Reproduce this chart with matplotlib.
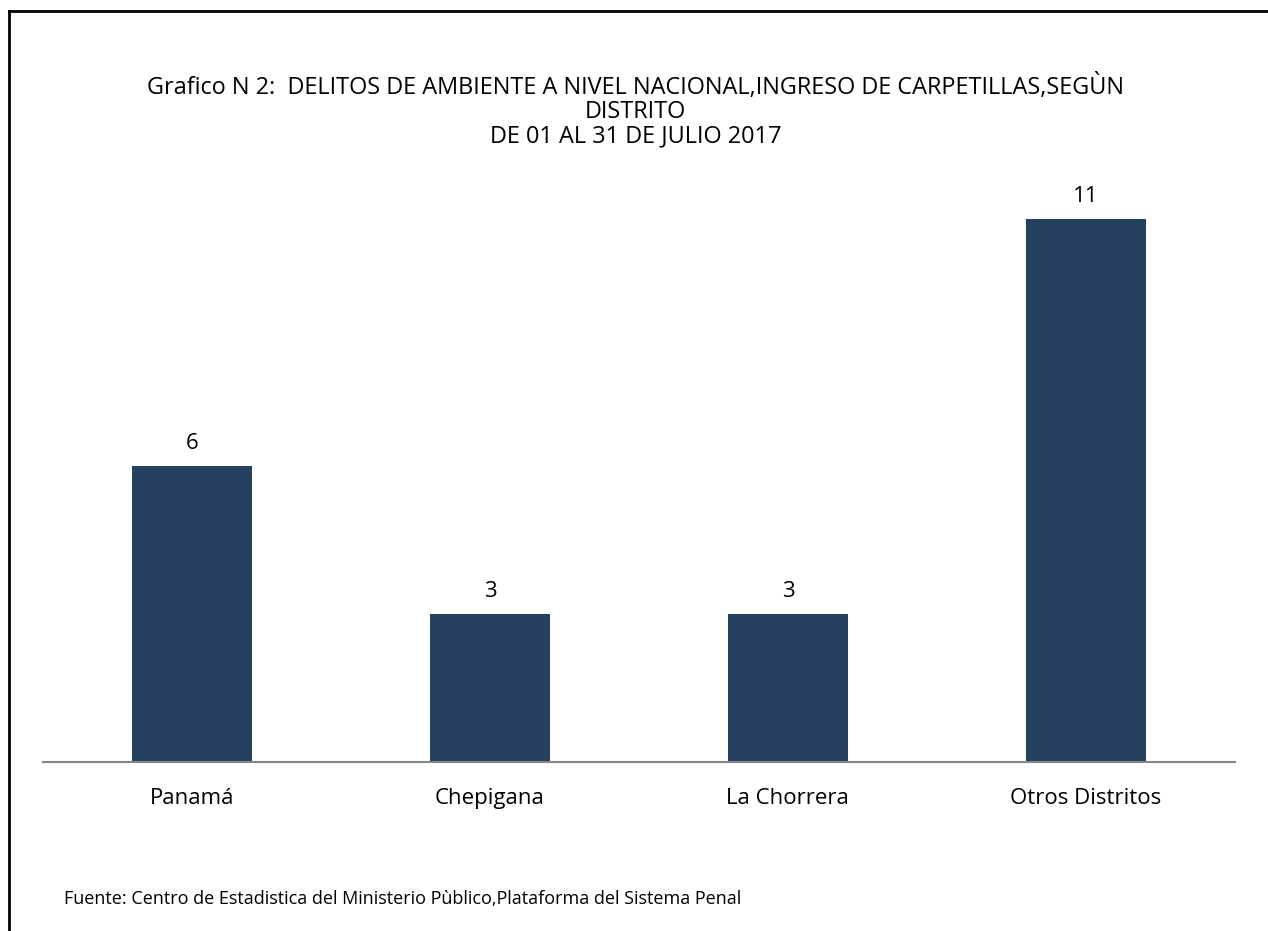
import matplotlib
matplotlib.use('Agg')
import matplotlib.pyplot as plt
from matplotlib.lines import Line2D

# --- datos ---
distritos = ['Panamá', 'Chepigana', 'La Chorrera', 'Otros Distritos']
carpetillas = [6, 3, 3, 11]

titulo = ('Grafico N 2:  DELITOS DE AMBIENTE A NIVEL NACIONAL,INGRESO DE CARPETILLAS,SEGÙN\n'
          'DISTRITO\n'
          'DE 01 AL 31 DE JULIO 2017')
fuente = 'Fuente: Centro de Estadistica del Ministerio Pùblico,Plataforma del Sistema Penal'

plt.rcParams['font.family'] = ['Open Sans', 'DejaVu Sans']

fig = plt.figure(figsize=(12.68, 9.31), dpi=100)
ax = fig.add_axes([0.0339, 0.1815, 0.940, 0.636])

x = range(len(distritos))
bars = ax.bar(x, carpetillas, width=0.4, color='#264061')
for b, v in zip(bars, carpetillas):
    ax.annotate(str(v), (b.get_x() + b.get_width() / 2, v), xytext=(0, 16.5),
                textcoords='offset points', ha='center', va='center', fontsize=16)

ax.set_xlim(-0.5, 3.5)
ax.set_ylim(0, 12)
ax.set_xticks(list(x))
ax.set_xticklabels(distritos, fontsize=16)
ax.tick_params(axis='x', length=0, pad=19)
ax.set_yticks([])
for s in ['top', 'right', 'left']:
    ax.spines[s].set_visible(False)
ax.spines['bottom'].set_color('#868686')
ax.spines['bottom'].set_linewidth(1.5)

fig.text(0.5012, 0.8808, titulo, ha='center', va='center', fontsize=16.9, linespacing=1.0)
fig.text(0.0505, 0.0345, fuente, ha='left', va='center', fontsize=13)

# marco
fig.add_artist(Line2D([0.0071, 1.0], [0.988, 0.988], transform=fig.transFigure, color='black', lw=2))
fig.add_artist(Line2D([0.0071, 0.0071], [0.0, 0.988], transform=fig.transFigure, color='black', lw=2))

fig.savefig('out.png', dpi=100, facecolor='white')
